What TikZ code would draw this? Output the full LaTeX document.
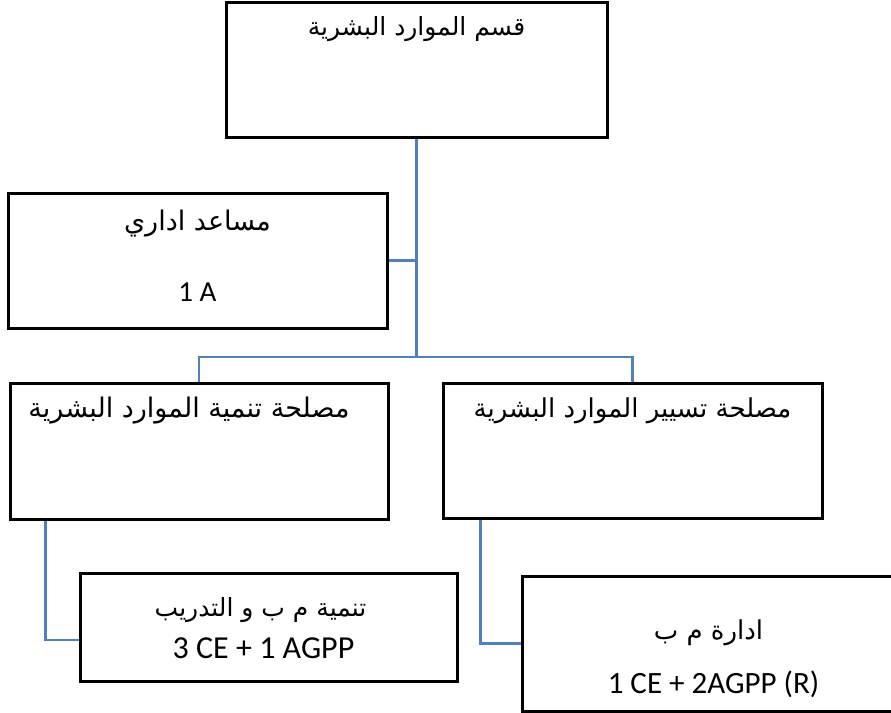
\documentclass[tikz,border=0pt]{standalone}
\usepackage{fontspec}
\setmainfont{Carlito}
\newfontfamily\arabicfont[Script=Arabic]{DejaVu Sans}
\TeXXeTstate=1
\definecolor{linkblue}{RGB}{79,129,189}
\tikzset{
  unit/.style={draw=black,line width=3pt,rectangle,inner sep=0pt},
  link/.style={draw=linkblue,line width=2.5pt},
  artext/.style={anchor=base,font=\arabicfont\fontsize{#1}{#1}\selectfont},
  lattext/.style={anchor=base,font=\fontsize{#1}{#1}\selectfont}
}
\begin{document}
\begin{tikzpicture}[x=1pt,y=-1pt]
      \useasboundingbox (0,0) rectangle (891,712);

      \node[unit,minimum width=381pt,minimum height=135pt] (hr) at (416.5,69.5) {};
      \node[unit,minimum width=379pt,minimum height=135pt] (asst) at (197.5,260.5) {};
      \node[unit,minimum width=378pt,minimum height=136pt] (dev) at (199,451) {};
      \node[unit,minimum width=379pt,minimum height=135pt] (mgmt) at (632.5,450.5) {};
      \node[unit,minimum width=377pt,minimum height=108pt] (train) at (268.5,627) {};
      \node[unit,minimum width=373pt,minimum height=135pt] (adm) at (708.5,643.5) {};

      \node[artext=25] (hrtitle) at ([yshift=-35pt]hr.north) {\beginR قسم الموارد البشرية\endR};
      \node[artext=27] (assttitle) at ([yshift=-39pt]asst.north) {\beginR مساعد اداري\endR};
      \node[lattext=29] (asstcount) at ([yshift=-110pt]asst.north) {1 A};
      \node[artext=27] (devtitle) at ([xshift=-10pt,yshift=-36pt]dev.north) {\beginR مصلحة تنمية الموارد البشرية\endR};
      \node[artext=26] (mgmttitle) at ([yshift=-36pt]mgmt.north) {\beginR مصلحة تسيير الموارد البشرية\endR};
      \node[artext=25] (traintitle) at ([xshift=-8pt,yshift=-45pt]train.north) {\beginR تنمية م ب و التدريب\endR};
      \node[lattext=32] (traincount) at ([xshift=-5pt,yshift=-87pt]train.north) {3 CE + 1 AGPP};
      \node[artext=26] (admtitle) at ([yshift=-65pt]adm.north) {\beginR ادارة م ب\endR};
      \node[lattext=31] (admcount) at ([xshift=5pt,yshift=-119pt]adm.north) {1 CE + 2AGPP (R)};

      \coordinate (bar) at (hr.south |- 0,357);
      \draw [link] (hr.south)--(bar);
      \draw [link] (asst.east)--(asst.east -| hr.south);
      \draw [link] (dev.north) |- (bar) -| (mgmt.north);
      \draw [link] ([xshift=37pt]dev.south west) |- ([yshift=-13pt]train.west);
      \draw [link] ([xshift=39pt]mgmt.south west) |- (adm.west);
    \end{tikzpicture}
\end{document}
